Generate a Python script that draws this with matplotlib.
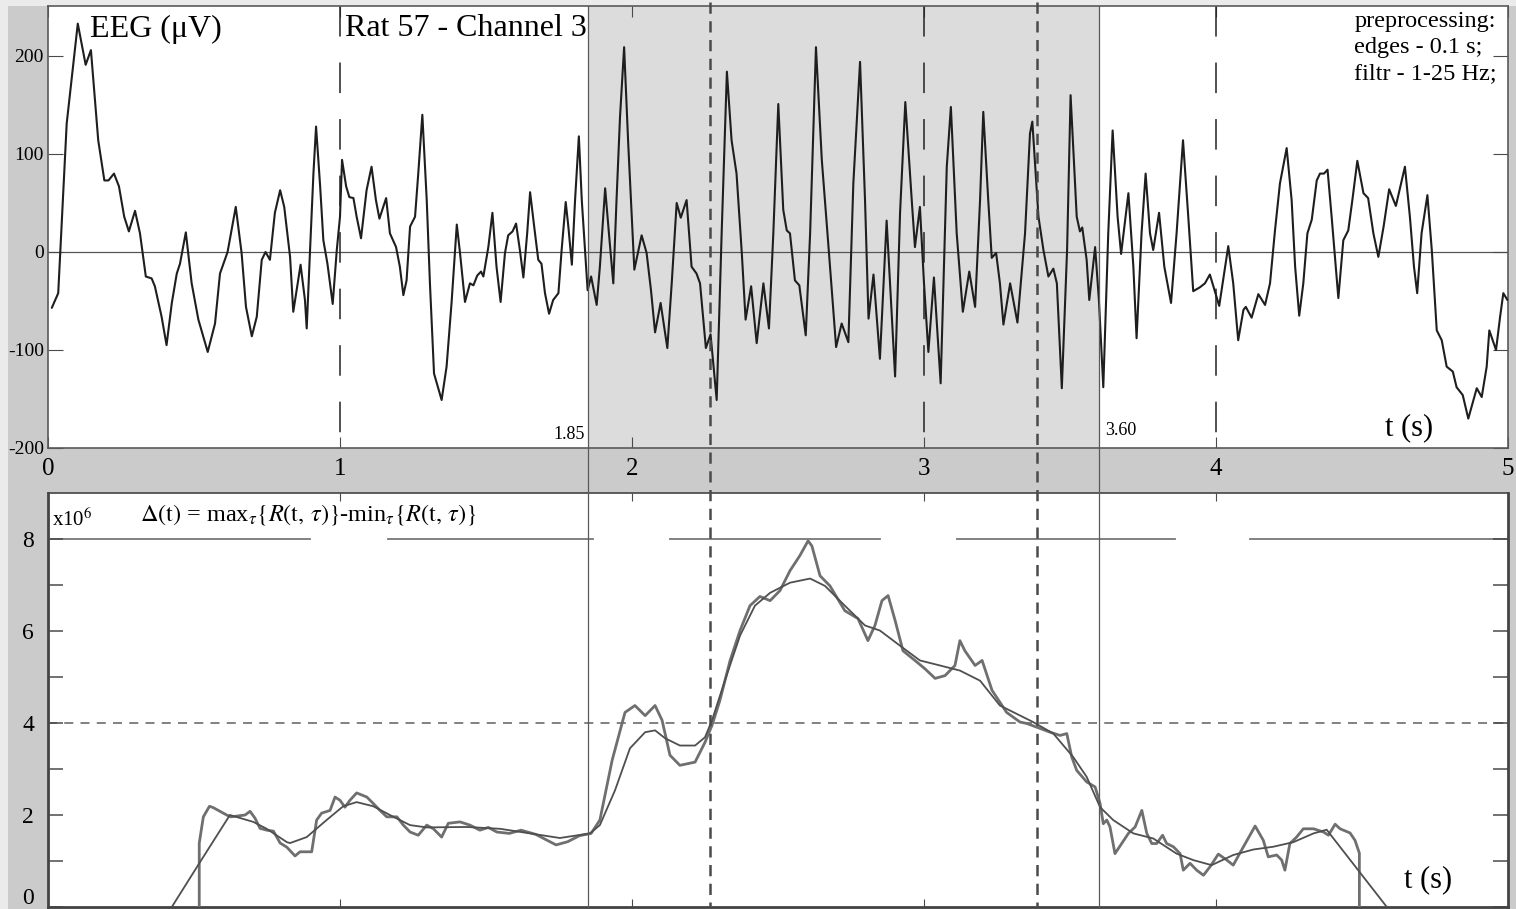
import matplotlib
matplotlib.use("Agg")
import matplotlib.pyplot as plt
import matplotlib.transforms as mtransforms
from matplotlib.lines import Line2D
from matplotlib.patches import Rectangle

plt.rcParams['font.family'] = ['Liberation Serif', 'DejaVu Serif']
plt.rcParams['mathtext.fontset'] = 'stix'

# ---------------- data ----------------
eeg_t = [0.013, 0.035, 0.064, 0.102, 0.129, 0.147, 0.172, 0.193, 0.207, 0.226, 0.243, 0.261, 0.277, 0.298,
         0.315, 0.335, 0.355, 0.366, 0.389, 0.406, 0.424, 0.441, 0.452, 0.472, 0.492, 0.515, 0.547, 0.572,
         0.589, 0.615, 0.643, 0.663, 0.678, 0.698, 0.715, 0.732, 0.745, 0.760, 0.777, 0.795, 0.809, 0.829,
         0.840, 0.865, 0.880, 0.886, 0.897, 0.909, 0.918, 0.932, 0.943, 0.957, 0.975, 0.989, 1.000, 1.007,
         1.021, 1.032, 1.046, 1.057, 1.072, 1.091, 1.108, 1.123, 1.135, 1.158, 1.171, 1.192, 1.205, 1.217,
         1.228, 1.240, 1.257, 1.268, 1.282, 1.297, 1.308, 1.322, 1.348, 1.365, 1.382, 1.400, 1.411, 1.428,
         1.445, 1.457, 1.470, 1.483, 1.491, 1.508, 1.522, 1.536, 1.550, 1.565, 1.576, 1.591, 1.603, 1.616,
         1.628, 1.641, 1.651, 1.665, 1.679, 1.690, 1.702, 1.716, 1.730, 1.748, 1.759, 1.773, 1.782, 1.794,
         1.805, 1.818, 1.828, 1.839, 1.848, 1.860, 1.879, 1.890, 1.908, 1.921, 1.936, 1.947, 1.959, 1.973,
         1.987, 1.999, 2.008, 2.033, 2.050, 2.065, 2.079, 2.098, 2.121, 2.136, 2.153, 2.167, 2.187, 2.204,
         2.221, 2.233, 2.253, 2.269, 2.290, 2.307, 2.325, 2.341, 2.358, 2.376, 2.389, 2.408, 2.427, 2.450,
         2.469, 2.484, 2.501, 2.518, 2.530, 2.541, 2.558, 2.573, 2.595, 2.610, 2.630, 2.650, 2.672, 2.699,
         2.718, 2.741, 2.758, 2.781, 2.798, 2.810, 2.827, 2.849, 2.872, 2.901, 2.918, 2.936, 2.958, 2.969,
         2.986, 3.000, 3.015, 3.034, 3.057, 3.078, 3.092, 3.112, 3.133, 3.155, 3.175, 3.192, 3.203, 3.220,
         3.232, 3.247, 3.260, 3.272, 3.295, 3.320, 3.346, 3.363, 3.371, 3.392, 3.409, 3.426, 3.443, 3.455,
         3.472, 3.490, 3.502, 3.523, 3.534, 3.542, 3.557, 3.566, 3.586, 3.599, 3.614, 3.631, 3.646, 3.663,
         3.675, 3.700, 3.717, 3.728, 3.745, 3.759, 3.774, 3.785, 3.805, 3.823, 3.846, 3.865, 3.887, 3.905,
         3.922, 3.945, 3.962, 3.979, 4.011, 4.042, 4.059, 4.076, 4.094, 4.102, 4.122, 4.145, 4.168, 4.185,
         4.202, 4.219, 4.242, 4.259, 4.271, 4.285, 4.299, 4.313, 4.328, 4.345, 4.356, 4.370, 4.382, 4.396,
         4.419, 4.436, 4.453, 4.467, 4.484, 4.505, 4.521, 4.539, 4.556, 4.574, 4.593, 4.616, 4.647, 4.664,
         4.678, 4.689, 4.704, 4.724, 4.739, 4.756, 4.773, 4.790, 4.811, 4.824, 4.845, 4.864, 4.893, 4.910,
         4.927, 4.936, 4.959, 4.973, 4.984, 4.998]
eeg_uv = [-57, -42, 131, 233, 191, 206, 114, 73, 73, 80, 67, 36, 21, 42,
          19, -25, -27, -35, -66, -95, -52, -22, -12, 20, -32, -69, -102, -73,
          -22, 0, 46, -1, -56, -86, -66, -8, 0, -8, 40, 63, 46, -5,
          -61, -13, -49, -78, -1, 80, 128, 67, 12, -12, -53, 2, 36, 94,
          67, 56, 55, 36, 14, 63, 87, 53, 34, 55, 19, 5, -15, -44,
          -29, 26, 36, 80, 140, 53, -32, -124, -151, -117, -52, 28, -1, -51,
          -32, -34, -24, -20, -25, 5, 40, -15, -51, -1, 17, 21, 29, 2,
          -26, 19, 61, 26, -8, -12, -42, -63, -49, -42, 2, 51, 26, -13,
          53, 118, 53, 2, -39, -25, -54, -15, 65, 19, -32, 53, 138, 209,
          111, 36, -18, 17, -1, -39, -82, -52, -98, -32, 50, 35, 53, -15,
          -22, -32, -98, -84, -151, 19, 184, 114, 80, -1, -69, -35, -93, -32,
          -78, 19, 151, 43, 22, 19, -29, -34, -85, 19, 209, 94, 9, -97,
          -73, -92, 70, 194, 53, -68, -23, -109, 32, -127, 40, 153, 53, 5,
          46, -32, -102, -26, -134, 87, 148, 19, -61, -20, -56, 53, 143, 53,
          -6, -1, -32, -74, -32, -72, 19, 121, 133, 36, 2, -25, -17, -32,
          -139, 2, 160, 36, 21, 25, -8, -49, 5, -49, -138, 19, 124, 36,
          -2, 60, -15, -88, 19, 80, 19, 2, 40, -15, -52, 19, 114, 36,
          -40, -36, -32, -23, -55, 6, -32, -90, -59, -56, -67, -43, -54, -32,
          22, 70, 106, 53, -15, -65, -32, 19, 33, 73, 80, 80, 84, 36,
          -47, 12, 22, 53, 93, 60, 55, 19, -5, 26, 64, 47, 87, 36,
          -15, -42, 19, 58, 2, -80, -90, -117, -122, -138, -146, -170, -139, -148,
          -117, -80, -100, -66, -42, -49]

delta_t = [0.518, 0.518, 0.532, 0.553, 0.566, 0.612, 0.627, 0.675, 0.692, 0.709, 0.726, 0.749, 0.772,
           0.795, 0.818, 0.846, 0.863, 0.903, 0.920, 0.937, 0.966, 0.983, 1.000, 1.017, 1.034, 1.057,
           1.092, 1.114, 1.137, 1.160, 1.195, 1.217, 1.240, 1.268, 1.297, 1.320, 1.348, 1.371, 1.411,
           1.445, 1.479, 1.508, 1.537, 1.580, 1.620, 1.670, 1.710, 1.740, 1.780, 1.820, 1.860, 1.890,
           1.932, 1.976, 2.010, 2.045, 2.079, 2.103, 2.130, 2.164, 2.216, 2.250, 2.274, 2.301, 2.336,
           2.370, 2.404, 2.438, 2.473, 2.507, 2.541, 2.575, 2.603, 2.616, 2.644, 2.678, 2.729, 2.774,
           2.808, 2.832, 2.856, 2.877, 2.901, 2.928, 2.969, 3.003, 3.038, 3.072, 3.106, 3.123, 3.140,
           3.175, 3.199, 3.233, 3.283, 3.329, 3.352, 3.386, 3.432, 3.466, 3.489, 3.506, 3.523, 3.557,
           3.586, 3.603, 3.614, 3.626, 3.637, 3.654, 3.677, 3.700, 3.723, 3.746, 3.763, 3.780, 3.797,
           3.817, 3.831, 3.854, 3.877, 3.888, 3.911, 3.934, 3.957, 3.979, 4.008, 4.037, 4.059, 4.094,
           4.134, 4.162, 4.179, 4.208, 4.225, 4.236, 4.253, 4.276, 4.299, 4.334, 4.368, 4.385, 4.408,
           4.425, 4.459, 4.476, 4.491, 4.491]
delta_val = [0.0, 1.39, 1.96, 2.19, 2.16, 2.00, 1.96, 2.00, 2.08, 1.93, 1.71, 1.67, 1.65,
             1.39, 1.30, 1.11, 1.20, 1.20, 1.89, 2.04, 2.10, 2.39, 2.32, 2.17, 2.32, 2.48,
             2.39, 2.25, 2.10, 1.96, 1.96, 1.78, 1.63, 1.56, 1.78, 1.70, 1.52, 1.82, 1.85,
             1.78, 1.67, 1.73, 1.63, 1.60, 1.67, 1.58, 1.45, 1.35, 1.42, 1.55, 1.60, 1.89,
             3.19, 4.23, 4.38, 4.16, 4.38, 4.06, 3.30, 3.08, 3.15, 3.58, 3.95, 4.49, 5.36,
             6.01, 6.55, 6.75, 6.66, 6.88, 7.31, 7.64, 7.96, 7.85, 7.20, 6.98, 6.44, 6.27,
             5.79, 6.12, 6.66, 6.77, 6.23, 5.57, 5.36, 5.18, 4.97, 5.03, 5.25, 5.79, 5.57,
             5.25, 5.36, 4.71, 4.23, 4.02, 3.99, 3.91, 3.80, 3.73, 3.77, 3.26, 2.97, 2.72,
             2.61, 2.25, 1.81, 1.89, 1.74, 1.16, 1.38, 1.60, 1.74, 2.10, 1.60, 1.38, 1.38,
             1.56, 1.38, 1.31, 1.16, 0.80, 0.95, 0.80, 0.69, 0.87, 1.15, 1.02, 0.91, 1.31,
             1.76, 1.45, 1.09, 1.13, 1.02, 0.80, 1.38, 1.52, 1.70, 1.70, 1.63, 1.56, 1.80,
             1.70, 1.61, 1.45, 1.17, 0.0]

trend_t = [0.424, 0.518, 0.623, 0.703, 0.749, 0.818, 0.829, 0.886, 0.954, 1.011, 1.057, 1.114, 1.183,
           1.240, 1.297, 1.434, 1.548, 1.753, 1.856, 1.890, 1.942, 1.993, 2.045, 2.079, 2.113, 2.164,
           2.216, 2.250, 2.274, 2.318, 2.370, 2.421, 2.473, 2.541, 2.610, 2.661, 2.729, 2.798, 2.849,
           2.918, 2.986, 3.055, 3.123, 3.192, 3.260, 3.374, 3.443, 3.511, 3.557, 3.603, 3.648, 3.717,
           3.785, 3.865, 3.922, 3.985, 4.059, 4.128, 4.196, 4.265, 4.334, 4.379, 4.585]
trend_val = [0.0, 0.95, 2.00, 1.85, 1.70, 1.41, 1.39, 1.52, 1.89, 2.19, 2.28, 2.19, 1.96,
             1.78, 1.73, 1.74, 1.70, 1.50, 1.60, 1.78, 2.54, 3.45, 3.80, 3.84, 3.67, 3.51,
             3.51, 3.69, 4.06, 4.92, 5.90, 6.55, 6.83, 7.05, 7.14, 6.98, 6.55, 6.12, 6.01,
             5.68, 5.36, 5.25, 5.14, 4.92, 4.38, 4.02, 3.77, 3.26, 2.83, 2.17, 1.89, 1.60,
             1.49, 1.16, 1.02, 0.91, 1.13, 1.25, 1.31, 1.41, 1.60, 1.68, 0.0]

window = (1.85, 3.60)
threshold = 4.0
cross_times = [2.267, 3.387]
dashed_seconds = [1, 3, 4]
top_segments = [(0.0, 0.897), (1.164, 1.866), (2.130, 2.849), (3.113, 3.860), (4.116, 5.0)]
top_segment_level = 8
x_ticks = [0, 1, 2, 3, 4, 5]
eeg_yticks = [-200, -100, 0, 100, 200]
delta_major = [0, 2, 4, 6, 8]
delta_minor = [1, 3, 5, 7]

# ---------------- figure ----------------
W, H = 1516, 909
fig = plt.figure(figsize=(W / 100, H / 100), dpi=100)
fig.patch.set_facecolor('#ebebeb')
fig.add_artist(Rectangle((8 / W, 0), 1 - 8 / W, 1 - 6 / H, transform=fig.transFigure,
                         facecolor='#cbcbcb', edgecolor='none', zorder=-5))

ax_top = fig.add_axes([48 / W, (H - 448) / H, 1460 / W, (448 - 6) / H])
ax_bot = fig.add_axes([48 / W, 2 / H, 1460 / W, (907 - 493) / H])

spine_col = '#4a4a4a'
# ---- top panel ----
ax_top.set_facecolor('white')
ax_top.set_xlim(0, 5)
ax_top.set_ylim(-200, 251)
ax_top.axvspan(window[0], window[1], color='#dcdcdc', zorder=0, lw=0)
ax_top.axhline(0, color='#555555', lw=0.9, zorder=1)
for s in dashed_seconds:
    ax_top.plot([s, s], [1, 0], transform=ax_top.get_xaxis_transform(), color='#222222',
                lw=1.1, dashes=(20, 17), zorder=2)
ax_top.plot(eeg_t, eeg_uv, color='#1e1e1e', lw=1.5, zorder=3,
            solid_joinstyle='round', solid_capstyle='round')

ax_top.set_xticks(x_ticks)
ax_top.set_xticklabels([str(v) for v in x_ticks])
ax_top.set_yticks(eeg_yticks)
ax_top.set_yticklabels([str(v) for v in eeg_yticks])
ax_top.tick_params(axis='y', direction='in', length=11, left=True, right=True, labelsize=14,
                   pad=3, color=spine_col)
ax_top.tick_params(axis='x', direction='in', length=8, top=True, bottom=True, labelsize=18,
                   pad=7, color=spine_col)
for sp in ax_top.spines.values():
    sp.set_color('#5a5a5a')
    sp.set_linewidth(1.2)

ax_top.text(0.0288, 0.946, 'EEG (μV)', transform=ax_top.transAxes, fontsize=23,
            ha='left', va='center')
ax_top.text(0.2034, 0.948, 'Rat 57 - Channel 3', transform=ax_top.transAxes, fontsize=23,
            ha='left', va='center')
ax_top.text(0.9925, 0.988, 'preprocessing:\nedges - 0.1 s;\nfiltr - 1-25 Hz;',
            transform=ax_top.transAxes, fontsize=17.5, ha='right', va='top',
            multialignment='left', linespacing=1.3)
ax_top.text(window[0] - 0.01, -186, f'{window[0]:.2f}', fontsize=13, ha='right', va='center')
ax_top.text(window[1] + 0.02, -182, f'{window[1]:.2f}', fontsize=13, ha='left', va='center')
ax_top.text(0.9158, 0.047, 't (s)', transform=ax_top.transAxes, fontsize=22,
            ha='left', va='center')

# ---- bottom panel ----
ax_bot.set_facecolor('white')
ax_bot.set_xlim(0, 5)
ax_bot.set_ylim(0, 9)
for a, b in top_segments:
    ax_bot.plot([a, b], [top_segment_level, top_segment_level], color='#777777', lw=1.3, zorder=1)
ax_bot.axhline(threshold, color='#777777', lw=1.3, dashes=(5, 4), zorder=1)
ax_bot.plot(delta_t, delta_val, color='#6f6f6f', lw=2.0, zorder=3, solid_joinstyle='round')
ax_bot.plot(trend_t, trend_val, color='#4f4f4f', lw=1.3, zorder=4, solid_joinstyle='round')

ax_bot.set_xticks([1, 2, 3, 4])
ax_bot.set_xticklabels([])
ax_bot.set_yticks(delta_major)
ax_bot.set_yticklabels([str(v) for v in delta_major])
ax_bot.set_yticks(delta_minor, minor=True)
ax_bot.tick_params(axis='y', which='both', direction='in', length=11, left=True, right=True,
                   labelsize=17, pad=10, color=spine_col, width=1.1)
ax_bot.tick_params(axis='x', direction='in', length=6, top=True, bottom=True, color=spine_col)
for name, sp in ax_bot.spines.items():
    sp.set_color('#444444')
    sp.set_linewidth(2.0 if name != 'top' else 1.2)
# lift the "0" label a little so it stays inside the picture
zero_lbl = ax_bot.get_yticklabels()[0]
zero_lbl.set_transform(zero_lbl.get_transform() + mtransforms.ScaledTranslation(0, 11 / 100, fig.dpi_scale_trans))

ax_bot.text(0.003, 0.935, 'x10$^{6}$', transform=ax_bot.transAxes, fontsize=15,
            ha='left', va='center')
ax_bot.text(0.315, 0.947 * 9,
            r'$\Delta(\mathrm{t})$ = max$_\tau\{R(\mathrm{t},\,\tau)\}$-min$_\tau\{R(\mathrm{t},\,\tau)\}$',
            fontsize=17.5, ha='left', va='center')
ax_bot.text(0.9288, 0.065, 't (s)', transform=ax_bot.transAxes, fontsize=22,
            ha='left', va='center')

# ---- lines spanning both panels ----
trans = mtransforms.blended_transform_factory(ax_top.transData, fig.transFigure)
y_top = 1 - 6 / H
y_bot = 2 / H
for x in window:
    fig.add_artist(Line2D([x, x], [y_top, y_bot], transform=trans, color='#5a5a5a', lw=0.9, zorder=5))
for x in cross_times:
    fig.add_artist(Line2D([x, x], [1 - 2 / H, y_bot], transform=trans, color='#4a4a4a', lw=1.8,
                          dashes=(4.5, 3), zorder=6))

fig.savefig('out.png', dpi=100, facecolor=fig.get_facecolor())
